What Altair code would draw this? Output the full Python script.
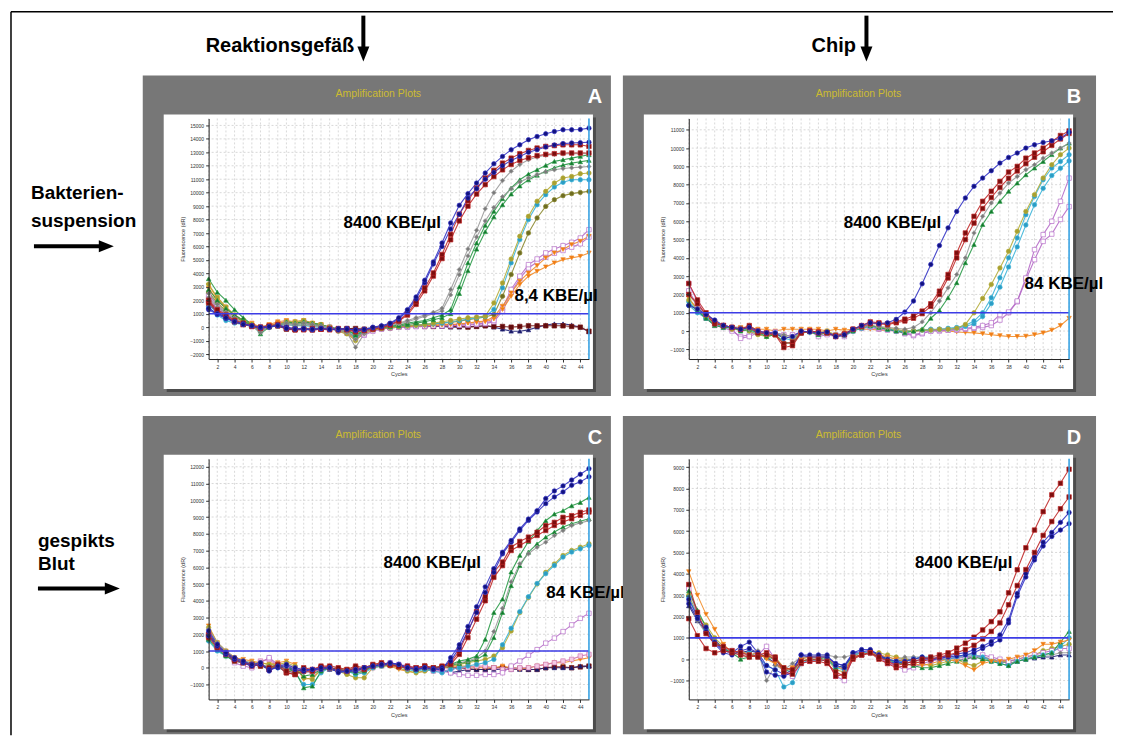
import altair as alt
import pandas as pd

FONT = "Liberation Sans"
CYCLES = list(range(1, 46))
X_TICKS = [2, 4, 6, 8, 10, 12, 14, 16, 18, 20, 22, 24, 26, 28, 30, 32, 34, 36, 38, 40, 42, 44]
GRID_CYCLES = list(range(1, 46))
THRESHOLD = 1000

# ---------------- Panel A : Reaktionsgefäß / Bakteriensuspension ----------------
A_blue1 = [1400, 1000, 700, 400, 200, 100, 0, 50, 100, -100, -150, -100, -150, -100, -150,
           -100, -150, -200, -150, 0, 100, 300, 700, 1300, 2250, 3490, 4850, 6260, 7750, 9060,
           9930, 10720, 11460, 12150, 12700, 13190, 13560, 13940, 14180, 14380, 14550, 14680, 14680, 14700, 14800]
A_blue2 = [1300, 950, 650, 400, 250, 100, -50, 0, 150, 0, -100, -150, -200, -100, -150,
           -200, -100, -250, -200, -50, 50, 250, 600, 1200, 2100, 3300, 4700, 6000, 7300, 8400,
           9600, 10300, 11000, 11500, 12000, 12400, 12700, 13000, 13200, 13400, 13550, 13650, 13700, 13720, 13750]
A_red1 = [2000, 1300, 900, 500, 300, 100, 0, 100, 200, -100, -200, -150, -200, -150, -100,
          -200, -150, -300, -200, -100, 0, 200, 500, 1000, 1900, 2920, 4030, 5400, 6900, 8400,
          9400, 10350, 11090, 11660, 12200, 12570, 12900, 13140, 13320, 13440, 13500, 13560, 13560, 13560, 13440]
A_red2 = [1800, 1200, 800, 400, 200, 50, -100, 50, 100, -50, -150, -200, -100, -150, -200,
          -100, -200, -350, -250, -150, -50, 150, 450, 900, 1700, 2700, 3800, 5100, 6500, 7900,
          9000, 9900, 10600, 11200, 11700, 12100, 12400, 12600, 12750, 12850, 12900, 12950, 12950, 12950, 12950]
A_gray1 = [2500, 1700, 1100, 700, 300, 100, -400, 100, 200, 300, 200, 300, 200, 100, 0,
           -200, -300, -900, -400, 0, 100, 200, 300, 500, 700, 900, 1100, 1400, 2800, 4280,
           5820, 7200, 8800, 10000, 10900, 11600, 12100, 12450, 12650, 12780, 12850, 12880, 12900, 12900, 12900]
A_gray2 = [2200, 1500, 1000, 600, 250, 50, -300, 50, 100, 200, 100, 150, 100, 0, -100,
           -300, -400, -1500, -500, -100, 0, 100, 250, 400, 600, 800, 1000, 1200, 2400, 3900,
           5300, 6700, 7900, 8900, 9700, 10300, 10800, 11100, 11350, 11550, 11700, 11800, 11850, 11900, 11950]
A_green1 = [3600, 2600, 2000, 1300, 700, 200, -500, 0, 100, 400, 300, 400, 300, 200, 0,
            -100, -200, -600, -300, -100, 0, 100, 150, 300, 400, 500, 700, 900, 1300, 3000,
            4780, 6260, 7570, 8610, 9550, 10350, 10960, 11385, 11700, 12030, 12330, 12450, 12570, 12700, 12820]
A_green2 = [2800, 2000, 1400, 900, 500, 100, -300, 50, 150, 300, 200, 250, 200, 100, -50,
            -150, -250, -500, -300, -150, -50, 50, 100, 200, 300, 400, 550, 700, 1000, 2500,
            4200, 5800, 7100, 8200, 9100, 9900, 10500, 10950, 11300, 11600, 11850, 12050, 12200, 12300, 12400]
A_olive1 = [3200, 2200, 1500, 900, 500, 200, -200, 100, 200, 400, 400, 500, 300, 200, 0,
            -300, -500, -1000, -400, -200, -100, 0, 50, 100, 150, 200, 300, 400, 500, 600,
            700, 750, 820, 1800, 3290, 5070, 6760, 8240, 9360, 10100, 10720, 11090, 11210, 11410, 11460]
A_teal = [1500, 900, 500, 300, 200, 100, -300, 0, 100, 200, 100, 100, 50, -50, -100,
          -200, -300, -700, -300, -100, 0, 50, 100, 100, 150, 200, 250, 300, 400, 500,
          600, 700, 800, 1310, 2920, 4780, 6510, 8000, 9110, 9850, 10420, 10770, 10960, 10960, 10960]
A_olive2 = [2600, 1800, 1200, 800, 400, 150, -100, 100, 200, 300, 300, 350, 250, 150, 0,
            -200, -400, -800, -300, -150, -50, 0, 50, 100, 150, 200, 250, 300, 350, 450,
            550, 650, 750, 940, 2300, 3910, 5520, 7000, 8120, 8980, 9480, 9780, 9930, 10020, 10100]
A_orange1 = [3100, 2200, 1500, 900, 500, 300, 0, 200, 400, 500, 400, 500, 300, 200, 0,
             -300, -500, -900, -500, -200, -100, 0, 50, 100, 100, 150, 150, 200, 200, 200,
             300, 400, 450, 770, 1560, 2550, 3420, 4030, 4580, 5150, 5520, 5770, 6140, 6390, 6760]
A_orange2 = [2900, 2000, 1400, 800, 400, 200, -100, 100, 300, 400, 300, 400, 250, 150, -50,
             -250, -400, -700, -400, -150, -50, 0, 50, 50, 100, 100, 150, 150, 200, 250,
             300, 350, 400, 600, 1310, 2300, 3170, 3790, 4160, 4480, 4780, 5020, 5150, 5270, 5520]
A_purple1 = [2400, 1600, 1000, 600, 300, 100, -100, 100, 300, 400, 300, 400, 250, 100, 0,
             -200, -400, -700, -500, -200, -100, 0, 0, 50, 50, 100, 100, 100, 150, 150,
             200, 250, 300, 500, 1430, 2800, 3790, 4650, 5070, 5520, 5820, 6060, 6310, 6630, 7250]
A_purple2 = [2100, 1400, 900, 500, 250, 50, -150, 50, 250, 350, 250, 300, 200, 50, -50,
             -250, -450, -800, -600, -300, -150, -50, 0, 0, 50, 50, 100, 100, 100, 150,
             150, 200, 250, 400, 1200, 2600, 3600, 4400, 4850, 5200, 5500, 5700, 5950, 6200, 6700]
A_navy = [1700, 1100, 700, 400, 200, 100, 0, 100, 150, -100, -150, -100, -150, -100, -150,
          -100, -100, -150, -150, -100, -50, 0, 50, 100, 100, 100, 50, 50, 0, 0,
          50, 50, 100, 0, -150, -300, -300, -200, 0, 150, 250, 250, 150, 0, -350]
A_maroon = [1900, 1200, 800, 400, 200, 100, 0, 50, 100, -150, -200, -150, -200, -150, -100,
            -150, -100, -100, -150, -150, -100, -50, 0, 50, 100, 50, 50, 100, 50, 50,
            0, 50, 100, 50, 50, 0, 50, 100, 100, 100, 100, 100, 50, 0, -300]

# ---------------- Panel B : Chip / Bakteriensuspension ----------------
B_blue = [1400, 1200, 900, 600, 300, 200, 100, 200, 0, -100, -100, -400, -300, 0, -50,
          -100, -50, -300, -200, 100, 300, 450, 400, 450, 640, 1040, 1640, 2580, 3640, 4670,
          5640, 6540, 7270, 7910, 8360, 8760, 9180, 9490, 9730, 10000, 10180, 10310, 10400, 10540, 10870]
B_red1 = [2600, 1700, 1000, 500, 300, 200, 100, 300, 0, -100, -200, -900, -800, -100, 0,
          -100, -100, -300, -200, 100, 300, 500, 450, 400, 500, 650, 820, 1090, 1490, 2180,
          3090, 4270, 5360, 6270, 7090, 7640, 8180, 8690, 9000, 9450, 9730, 10000, 10360, 10690, 10940]
B_red2 = [2000, 1500, 900, 400, 300, 200, 100, 200, -100, -150, -200, -700, -600, -100, 0,
          -50, -100, -250, -150, 100, 250, 400, 400, 350, 450, 550, 700, 950, 1350, 2000,
          2900, 4000, 5000, 5900, 6700, 7300, 7850, 8350, 8750, 9150, 9500, 9800, 10150, 10500, 10800]
B_gray = [2000, 1400, 900, 500, 300, 200, 200, 100, 0, -200, -100, -200, -300, -100, 0,
          -100, -100, -200, -100, 50, 200, 300, 250, 200, 150, 100, 200, 500, 1000, 1640,
          2360, 3090, 4000, 5360, 6270, 7000, 7540, 8090, 8450, 8820, 9090, 9450, 9730, 10000, 10270]
B_green = [1500, 1100, 700, 300, 200, 200, 0, 100, -100, -300, -200, -600, -700, -100, -50,
           -200, -100, -300, -200, 0, 200, 300, 200, 100, 0, -100, 0, 100, 700, 1130,
           1820, 2640, 3730, 4730, 5820, 6540, 7090, 7640, 8090, 8540, 8910, 9270, 9640, 10000, 10270]
B_olive = [1700, 1200, 800, 400, 300, 100, 100, 0, -200, -300, -200, -300, -400, -100, 0,
           -100, 0, -200, -200, 50, 200, 300, 200, 150, 100, 0, 0, 50, 50, 100,
           100, 150, 360, 1000, 1780, 2550, 3450, 4360, 5450, 6540, 7450, 8360, 9090, 9640, 10000]
B_teal1 = [1600, 1100, 700, 400, 300, 200, 100, 100, -100, -200, -100, -300, -400, -100, 0,
           -100, -100, -300, -200, 0, 200, 300, 200, 100, 0, -50, 0, 50, 100, 100,
           150, 200, 300, 545, 1000, 1820, 2910, 4000, 5090, 6360, 7360, 8270, 8910, 9270, 9640]
B_teal2 = [1400, 1000, 700, 400, 200, 150, 100, 0, -100, -150, -150, -400, -500, -100, -50,
           -150, -100, -250, -250, 0, 150, 250, 200, 100, 50, 0, 0, 50, 50, 100,
           100, 150, 250, 400, 800, 1500, 2400, 3500, 4600, 5800, 6900, 7800, 8500, 8900, 9300]
B_purple1 = [2600, 1600, 800, 400, 300, 100, -400, -300, -100, -100, -100, -200, -300, -100, 0,
             -300, -200, -300, -300, 0, 200, 250, 150, 100, 0, -100, -200, -100, 0, 50,
             50, 100, 150, 200, 300, 450, 900, 1040, 1640, 2900, 4450, 5270, 6000, 7090, 8360]
B_purple2 = [2200, 1400, 700, 300, 200, 0, -300, -200, 0, -100, -50, -300, -200, -100, 0,
             -200, -100, -200, -200, 50, 150, 200, 100, 50, 0, -150, -250, -150, 0, 0,
             50, 50, 100, 150, 200, 300, 600, 1000, 1600, 2800, 3900, 4900, 5300, 6100, 6800]
B_orange = [1800, 1200, 700, 400, 300, 200, 200, 200, 100, 100, 0, 100, 100, 100, 100,
            100, 0, 100, 50, 100, 100, 100, 50, 50, 0, 0, 0, 0, 50, 0,
            0, -50, -80, -100, -150, -200, -250, -300, -300, -280, -200, -100, 50, 300, 700]

# ---------------- Panel C : Reaktionsgefäß / gespiktes Blut ----------------
C_blue1 = [2200, 1400, 900, 600, 400, 200, 300, -200, 100, 200, 0, -100, -100, 0, 0,
           -300, -200, -100, 0, 100, 200, 300, 200, 0, -100, 0, -100, -100, 600, 1370,
           2460, 3640, 4830, 5920, 6900, 7600, 8290, 8880, 9380, 10100, 10560, 10860, 11210, 11550, 11890]
C_blue2 = [1900, 1300, 800, 500, 300, 100, 200, -100, 0, 100, -100, -200, -100, -100, 0,
           -200, -200, -200, 0, 100, 150, 250, 200, 0, -50, 0, -50, 0, 400, 1200,
           2200, 3300, 4500, 5700, 6800, 7500, 8200, 8800, 9300, 9800, 10200, 10500, 10900, 11100, 11400]
C_red1 = [2000, 1300, 900, 500, 300, 200, 100, 0, 200, -200, -300, 0, -100, 100, 100,
          0, -100, 100, 0, 200, 300, 200, 100, 100, 0, 100, 0, 100, 300, 1000,
          2160, 3350, 4240, 5720, 6310, 7200, 7540, 7800, 8090, 8490, 8680, 8980, 9080, 9280, 9420]
C_red2 = [1800, 1200, 800, 400, 300, 100, 200, -100, 100, -300, -400, -200, -200, 0, 0,
          -100, -200, 0, -100, 100, 200, 150, 50, 0, -50, 50, -50, 50, 200, 800,
          1800, 2900, 4000, 5400, 6100, 7000, 7300, 7600, 7900, 8200, 8500, 8700, 8900, 9100, 9300]
C_green1 = [1700, 1100, 700, 400, 300, 200, 100, 0, 100, -100, -200, -1200, -1100, -200, 0,
            -100, -200, -300, -200, 100, 150, 200, 100, 0, -100, 0, 0, 100, 200, 400,
            500, 700, 1700, 3300, 4100, 5720, 6710, 7540, 8190, 8780, 9180, 9380, 9670, 9870, 10170]
C_gray1 = [2300, 1500, 1000, 600, 400, 300, 200, 0, 200, 100, 0, -300, -200, 0, 100,
           0, -100, 0, 0, 200, 300, 200, 100, -100, -100, 0, -100, 0, 200, 300,
           400, 600, 1000, 2160, 3550, 5130, 6210, 6810, 7200, 7500, 7890, 8190, 8490, 8650, 8780]
C_green2 = [2000, 1300, 900, 500, 300, 200, 100, 100, 100, 0, -100, -500, -400, -100, 0,
            -100, -200, -100, -100, 100, 200, 200, 100, 0, -100, 0, -50, 50, 150, 250,
            350, 500, 800, 1800, 3300, 4900, 6100, 6900, 7400, 7800, 8100, 8400, 8600, 8750, 8900]
C_teal = [1600, 1000, 700, 400, 300, 200, 100, 0, 0, -200, -300, -1000, -1000, -300, 0,
          -100, -200, -400, -300, 0, 100, 200, 100, -100, -200, -100, -200, -300, -100, 0,
          100, 200, 300, 500, 1370, 2360, 3350, 4240, 5030, 5620, 6110, 6610, 6910, 7100, 7300]
C_olive = [2400, 1500, 1000, 600, 400, 300, 300, 200, 200, 300, 100, -600, -700, -100, 0,
           -200, -400, -600, -600, 0, 100, 100, 0, -200, -300, -200, -100, 0, 100, 200,
           300, 400, 500, 700, 1200, 2200, 3300, 4200, 5000, 5700, 6200, 6700, 7000, 7200, 7400]
C_purple = [2000, 1300, 800, 300, 100, 0, 300, 600, 200, 0, -100, -100, -200, -100, 0,
            -100, -200, -100, -100, 100, 200, 300, 200, 100, 0, 0, -100, -200, -300, -400,
            -450, -450, -400, -400, -300, 100, 400, 750, 1080, 1470, 1770, 2160, 2560, 2950, 3250]
C_pink = [1900, 1200, 800, 500, 300, 100, 400, 500, 100, 100, 0, -200, -300, -100, 0,
          -100, -200, -100, -200, 0, 100, 200, 150, 0, -100, -100, -200, -200, -100, 0,
          0, 100, 100, 0, -100, -100, 0, 0, 100, 200, 300, 400, 500, 700, 800]
C_orange = [2500, 1500, 1000, 600, 500, 400, 300, 200, 300, 400, 200, -700, -600, -100, 0,
            -100, -100, -300, -300, 100, 200, 100, -100, -200, -300, -200, -100, 0, 100, 100,
            100, 0, 0, 0, 100, 0, -100, 0, 100, 200, 300, 300, 400, 500, 600]
C_navy = [2100, 1300, 800, 500, 300, 200, 300, -100, 100, 0, -200, -100, -100, 0, -100,
          -200, -300, -200, -100, 100, 200, 300, 200, 0, -100, -100, -100, -100, -300, -200,
          -100, -100, -100, -100, -100, -100, -100, -100, -100, 0, 0, 0, 0, 100, 100]
C_maroon = [1900, 1200, 800, 500, 300, 200, 200, -100, 100, -300, -400, -100, -200, 0, 0,
            -100, -200, 0, -100, 100, 200, 200, 100, 0, 0, 100, 0, 0, 0, 0,
            -50, -100, -100, 0, 0, 0, -50, -100, -100, 0, 50, 50, 0, 50, 100]

# ---------------- Panel D : Chip / gespiktes Blut ----------------
D_red1 = [3500, 2200, 1200, 700, 600, 400, 300, 200, 100, 200, 0, -400, -500, -100, 0,
          0, -100, -800, -700, 100, 200, 300, 100, -100, -300, -200, -100, 0, 100, 200,
          300, 520, 750, 1030, 1370, 1760, 2220, 3110, 4190, 5220, 6050, 6910, 7700, 8240, 8900]
D_red2 = [1900, 1100, 500, 300, 400, 300, 200, 100, 200, 300, 100, -600, -700, -200, -100,
          -100, -200, -600, -800, 0, 200, 300, 0, -200, -400, -300, -200, -100, 0, 100,
          200, 300, 450, 650, 950, 1300, 1700, 2550, 3450, 4200, 5000, 5800, 6450, 7050, 7600]
D_blue1 = [2600, 1900, 1500, 800, 400, 300, 600, 800, 300, -600, -750, -800, -600, 200, 200,
           200, 200, -300, -400, 300, 450, 450, 200, -100, -200, -100, 0, 100, 0, 100,
           150, 250, 300, 440, 600, 830, 1140, 1840, 3080, 4010, 4780, 5480, 5940, 6410, 6870]
D_blue2 = [2800, 2000, 1300, 700, 300, 200, 400, 500, 300, -300, -500, -700, -500, 200, 100,
           100, 100, -200, -300, 300, 350, 400, 200, 0, -100, -200, -100, 0, -50, 50,
           100, 150, 200, 300, 500, 700, 900, 1700, 2950, 3850, 4650, 5300, 5750, 6050, 6350]
D_orange = [4100, 3000, 2100, 1400, 700, 300, 400, 200, 300, 0, -200, -500, -400, 0, 100,
            100, 100, -300, -500, 100, 200, 300, 200, 100, 0, -100, -200, -300, -200, -100,
            0, -100, -300, -500, -200, -100, -100, 0, 100, 200, 400, 700, 700, 800, 900]
D_green = [3200, 2300, 1500, 800, 500, 300, 0, 100, 200, 100, 0, -500, -600, -100, 0,
           0, 100, -400, -300, 100, 200, 300, 100, 0, -200, -200, -300, -400, -400, -300,
           -200, -100, 0, 100, 0, -100, -200, -300, -100, 0, 100, 200, 300, 800, 1300]
D_teal = [2900, 2000, 1400, 800, 500, 300, 300, 300, 100, -300, -500, -1300, -1100, -200, 0,
          -100, 0, -400, -500, 200, 300, 300, 100, 0, -100, -100, 0, 100, 100, 0,
          0, 100, 200, 200, 100, -100, -200, -300, -100, 0, 100, 200, 300, 600, 1000]
D_purple = [3300, 2100, 1300, 700, 500, 400, 300, 200, 200, 600, 0, -600, -800, -200, -100,
            0, -100, -800, -1000, 100, 200, 300, 100, -200, -300, -500, -400, -200, -100, 0,
            100, 0, 0, 100, 200, 100, 0, -100, 0, 100, 200, 300, 400, 500, 500]
D_gray = [2700, 1800, 1200, 800, 400, 300, 200, 100, 400, -1000, -300, -500, -200, 100, 100,
          200, 200, 100, 100, 200, 300, 300, 200, 100, 0, 100, 100, 100, 0, 0,
          100, 100, 200, 200, 100, 0, -100, -200, -100, 0, 100, 200, 200, 300, 300]
D_olive = [3000, 2100, 1600, 1000, 600, 400, 300, 200, 100, 200, 100, -400, -500, -100, 0,
           0, 0, -500, -600, 200, 300, 300, 300, 200, 100, 0, -100, -200, -300, -200,
           -100, 0, -200, -300, -100, 0, -100, -100, 0, 100, 200, 400, 500, 600, 700]
D_navy = [2500, 1800, 1300, 900, 500, 300, 300, 400, 300, 100, -200, -500, -400, 100, 100,
          100, 100, -200, -300, 200, 300, 300, 200, 0, -100, 0, 0, 100, 0, 0,
          0, 100, 100, 100, 100, 0, -100, -200, -100, 0, 50, 100, 100, 200, 200]

PANEL_A = [("navy", A_navy), ("maroon", A_maroon), ("purple", A_purple2), ("purple", A_purple1),
           ("orange", A_orange2), ("orange", A_orange1), ("olive2", A_olive2), ("teal", A_teal),
           ("olive", A_olive1), ("green", A_green2), ("green", A_green1), ("gray", A_gray2),
           ("gray", A_gray1), ("red", A_red2), ("red", A_red1), ("blue", A_blue2), ("blue", A_blue1)]
PANEL_B = [("orange", B_orange), ("purple", B_purple2), ("purple", B_purple1), ("teal", B_teal2),
           ("teal", B_teal1), ("olive", B_olive), ("green", B_green), ("gray", B_gray),
           ("red", B_red2), ("red", B_red1), ("blue", B_blue)]
PANEL_C = [("maroon", C_maroon), ("navy", C_navy), ("orange", C_orange), ("pink", C_pink),
           ("purple", C_purple), ("olive", C_olive), ("teal", C_teal), ("green", C_green2),
           ("gray", C_gray1), ("green", C_green1), ("red", C_red2), ("red", C_red1),
           ("blue", C_blue2), ("blue", C_blue1)]
PANEL_D = [("navy", D_navy), ("olive", D_olive), ("gray", D_gray), ("purple", D_purple),
           ("teal", D_teal), ("green", D_green), ("orange", D_orange), ("blue", D_blue2),
           ("blue", D_blue1), ("red", D_red2), ("red", D_red1)]

A_YTICKS = list(range(-2000, 15001, 1000))
B_YTICKS = list(range(-1000, 11001, 1000))
C_YTICKS = list(range(-1000, 12001, 1000))
D_YTICKS = list(range(-1000, 9001, 1000))
A_YDOM = [-2370, 15520]
B_YDOM = [-1530, 11620]
C_YDOM = [-1890, 12474]
D_YDOM = [-1884, 9386]

A_ANN_TEXT = ["8400 KBE/µl", "8,4 KBE/µl"]
A_ANN_CYCLE = [22.25, 41.2]
A_ANN_VALUE = [7725, 2307]
B_ANN_TEXT = ["8400 KBE/µl", "84 KBE/µl"]
B_ANN_CYCLE = [24.56, 44.4]
B_ANN_VALUE = [5891, 2562]
C_ANN_TEXT = ["8400 KBE/µl", "84 KBE/µl"]
C_ANN_CYCLE = [26.87, 44.6]
C_ANN_VALUE = [6275, 4487]
D_ANN_TEXT = ["8400 KBE/µl"]
D_ANN_CYCLE = [32.8]
D_ANN_VALUE = [4523]

KINDS = ["blue", "red", "gray", "green", "olive", "olive2", "teal", "orange", "purple", "pink", "navy", "maroon"]
LINE_COLORS = ["#3434c4", "#c02a2a", "#9a9a9a", "#2a9a48", "#b4ac3a", "#8c8a30", "#3cb4d8", "#f28c28",
               "#b66cc8", "#d27ab6", "#26267a", "#7a1c1c"]
FILL_COLORS = ["#12127e", "#7c0e0e", "#7a7a7a", "#14782c", "#a8a030", "#6e6c22", "#2c9cc4", "#f07a12",
               "#ffffff", "#f4cce6", "#1a1a62", "#620c0c"]
SHAPES = ["circle", "square", "diamond", "triangle-up", "circle", "circle", "circle", "triangle-down",
          "square", "square", "triangle-up", "square"]

PW, PH = 381, 241
PANEL_GRAY = "#777777"
DOWN_HEAD = "M-0.8,-1L0.8,-1L0,1Z"
RIGHT_HEAD = "M-1,-0.8L1,0L-1,0.8Z"


def series_frame(panel):
    rows = []
    for i, (kind, vals) in enumerate(panel):
        assert len(vals) == len(CYCLES), (kind, i, len(vals))
        for c, v in zip(CYCLES, vals):
            rows.append({"sid": f"s{i:02d}", "kind": kind, "cycle": c, "value": v})
    return pd.DataFrame(rows)


def one():
    return alt.Data(values=[{"k": 0}])


def txt(x, y, s, size=19, color="black", weight="bold", align="left"):
    return alt.Chart(one()).mark_text(text=s, font=FONT, fontSize=size, fontWeight=weight,
                                      color=color, align=align, baseline="middle").encode(
        x=alt.value(x), y=alt.value(y))


def vshaft(x, y1, y2):
    return alt.Chart(one()).mark_rule(color="black", strokeWidth=4).encode(
        x=alt.value(x), y=alt.value(y1), y2=alt.value(y2))


def hshaft(x1, x2, y):
    return alt.Chart(one()).mark_rule(color="black", strokeWidth=4).encode(
        x=alt.value(x1), x2=alt.value(x2), y=alt.value(y))


def head(x, y, path):
    return alt.Chart(one()).mark_point(shape=path, filled=True, size=225, color="black", opacity=1).encode(
        x=alt.value(x), y=alt.value(y))


def make_panel(series, ydom, yticks, ann_text, ann_cycle, ann_value, letter, letter_x,
               gray_right, gray_bottom, extras):
    df = series_frame(series)
    xaxis = alt.Axis(values=X_TICKS, title="Cycles", labelFontSize=5, labelFont=FONT, labelColor="#333333",
                     titleFont=FONT, titleFontSize=5.5, titleFontWeight="normal", titleColor="#333333",
                     titlePadding=3, tickSize=3, tickColor="#333333", domainColor="#222222",
                     labelPadding=2, grid=False, zindex=1)
    yaxis = alt.Axis(values=yticks, title="Fluorescence (dR)", labelFontSize=5, labelFont=FONT,
                     labelColor="#333333", titleFont=FONT, titleFontSize=5.5, titleFontWeight="normal",
                     titleColor="#333333", titlePadding=4, tickSize=3, tickColor="#333333",
                     domainColor="#222222", labelPadding=2, grid=False, zindex=1, format="d")
    xenc = alt.X("cycle:Q", scale=alt.Scale(domain=[1, 45], nice=False, zero=False), axis=xaxis)
    yenc = alt.Y("value:Q", scale=alt.Scale(domain=ydom, nice=False, zero=False), axis=yaxis)

    bg = alt.Chart(one()).mark_rect(color=PANEL_GRAY).encode(
        x=alt.value(-66), x2=alt.value(gray_right), y=alt.value(-43), y2=alt.value(gray_bottom))
    shadow = alt.Chart(one()).mark_rect(color="#4c4c4c").encode(
        x=alt.value(-42), x2=alt.value(388), y=alt.value(-1), y2=alt.value(274))
    white = alt.Chart(one()).mark_rect(color="white").encode(
        x=alt.value(-45), x2=alt.value(385), y=alt.value(-4), y2=alt.value(271))
    vgrid = alt.Chart(pd.DataFrame({"cycle": GRID_CYCLES})).mark_rule(
        color="#c8c8c8", strokeDash=[2, 2], strokeWidth=0.7).encode(x=xenc)
    hgrid = alt.Chart(pd.DataFrame({"value": yticks})).mark_rule(
        color="#c8c8c8", strokeDash=[2, 2], strokeWidth=0.7).encode(y=yenc)
    lines = alt.Chart(df).mark_line(strokeWidth=1.1, opacity=0.9).encode(
        x=xenc, y=yenc,
        color=alt.Color("kind:N", scale=alt.Scale(domain=KINDS, range=LINE_COLORS), legend=None),
        detail="sid:N")
    points = alt.Chart(df).mark_point(filled=True, size=20, strokeWidth=0.7, opacity=1).encode(
        x=xenc, y=yenc,
        fill=alt.Fill("kind:N", scale=alt.Scale(domain=KINDS, range=FILL_COLORS), legend=None),
        stroke=alt.Stroke("kind:N", scale=alt.Scale(domain=KINDS, range=LINE_COLORS), legend=None),
        shape=alt.Shape("kind:N", scale=alt.Scale(domain=KINDS, range=SHAPES), legend=None))
    thresh = alt.Chart(pd.DataFrame({"value": [THRESHOLD]})).mark_rule(
        color="#3c3ce6", strokeWidth=1.6).encode(y=yenc)
    endline = alt.Chart(pd.DataFrame({"cycle": [45]})).mark_rule(
        color="#3aa4e4", strokeWidth=1.6).encode(x=xenc)
    ann = alt.Chart(pd.DataFrame({"cycle": ann_cycle, "value": ann_value, "label": ann_text})).mark_text(
        font=FONT, fontSize=17, fontWeight="bold", color="black", align="center", baseline="middle").encode(
        x=xenc, y=yenc, text="label:N")
    title = txt(170, -24, "Amplification Plots", size=10.5, color="#cdbc30", weight="normal", align="center")
    let = txt(letter_x, -21, letter, size=20, color="white", weight="bold", align="center")
    return alt.layer(bg, shadow, white, vgrid, hgrid, lines, points, thresh, endline, ann, title, let,
                     *extras).properties(width=PW, height=PH)


# decorations (positions relative to each panel's plot area)
extras_A = [
    alt.Chart(one()).mark_rule(color="black", strokeWidth=1.5).encode(
        x=alt.value(-198), x2=alt.value(906), y=alt.value(-107)),
    alt.Chart(one()).mark_rule(color="black", strokeWidth=1.5).encode(
        x=alt.value(-198), y=alt.value(-107), y2=alt.value(618)),
    txt(-3, -73, "Reaktionsgefäß", size=20),
    vshaft(155, -103, -70), head(155, -64.5, DOWN_HEAD),
    txt(-178, 75, "Bakterien-", size=19),
    txt(-178, 103, "suspension", size=19),
    hshaft(-175, -108, 128), head(-102.5, 128, RIGHT_HEAD),
]
extras_B = [
    txt(123, -73, "Chip", size=20),
    vshaft(178, -103, -70), head(178, -64.5, DOWN_HEAD),
]
extras_C = [
    txt(-171, 82, "gespikts", size=19),
    txt(-171, 105, "Blut", size=19),
    hshaft(-171, -102, 130), head(-96.5, 130, RIGHT_HEAD),
]

pA = make_panel(PANEL_A, A_YDOM, A_YTICKS, A_ANN_TEXT, A_ANN_CYCLE, A_ANN_VALUE, "A", 387, 403, 278, extras_A)
pB = make_panel(PANEL_B, B_YDOM, B_YTICKS, B_ANN_TEXT, B_ANN_CYCLE, B_ANN_VALUE, "B", 386, 408, 278, extras_B)
pC = make_panel(PANEL_C, C_YDOM, C_YTICKS, C_ANN_TEXT, C_ANN_CYCLE, C_ANN_VALUE, "C", 387, 403, 276, extras_C)
pD = make_panel(PANEL_D, D_YDOM, D_YTICKS, D_ANN_TEXT, D_ANN_CYCLE, D_ANN_VALUE, "D", 386, 408, 276, [])

chart = alt.concat(pA, pB, pC, pD, columns=2, spacing=100, bounds="flush").properties(
    padding={"left": 1, "top": 1, "right": 0, "bottom": 0}
).configure_view(stroke=None).configure(background="white")

chart.save("out.html", embed_options={"renderer": "svg", "actions": False})
